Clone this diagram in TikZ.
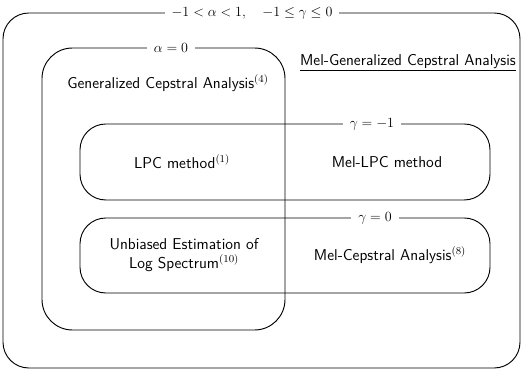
\documentclass[tikz,border=0pt]{standalone}
\usepackage{amsmath}
\usepackage{tikz}
\usetikzlibrary{positioning}

\begin{document}
\begin{tikzpicture}[
    x=0.03cm, y=-0.03cm,
    region/.style={draw, thick, rounded corners=22},
    tag/.style={fill=white, inner xsep=6pt, inner ysep=1pt, font=\large},
    txt/.style={font=\fontsize{13.4}{16}\selectfont\sffamily, align=center}
]
\useasboundingbox (0,0) rectangle (527,372);
% nested regions
\draw[region] (3,13) rectangle (520,368);
\draw[region, rounded corners=26] (42,48) rectangle (285,330);
\draw[region] (80,124) rectangle (490,200);
\draw[region] (80,218) rectangle (490,293);
% conditions on the borders
\node[tag] (outer) at (252,13) {$-1<\alpha<1,\quad -1\le\gamma\le0$};
\node[tag] (alpha) at (171,48) {$\alpha=0$};
\node[tag] (gmone) at (372,124) {$\gamma=-1$};
\node[tag] (gzero) at (375,218) {$\gamma=0$};
% methods
\node[txt] (mgc) at (408,63) {\underline{Mel-Generalized Cepstral Analysis}};
\node[txt] (gc) at (168,83) {Generalized Cepstral Analysis$^{(4)}$};
\node[txt] (lpc) at (182,162) {LPC method$^{(1)}$};
\node[txt] (mlpc) at (387,162) {Mel-LPC method};
\node[txt] (ules) at (184,255) {Unbiased Estimation of\\Log Spectrum$^{(10)}$};
\node[txt] (mcep) at (390,255) {Mel-Cepstral Analysis$^{(8)}$};
\end{tikzpicture}
\end{document}
